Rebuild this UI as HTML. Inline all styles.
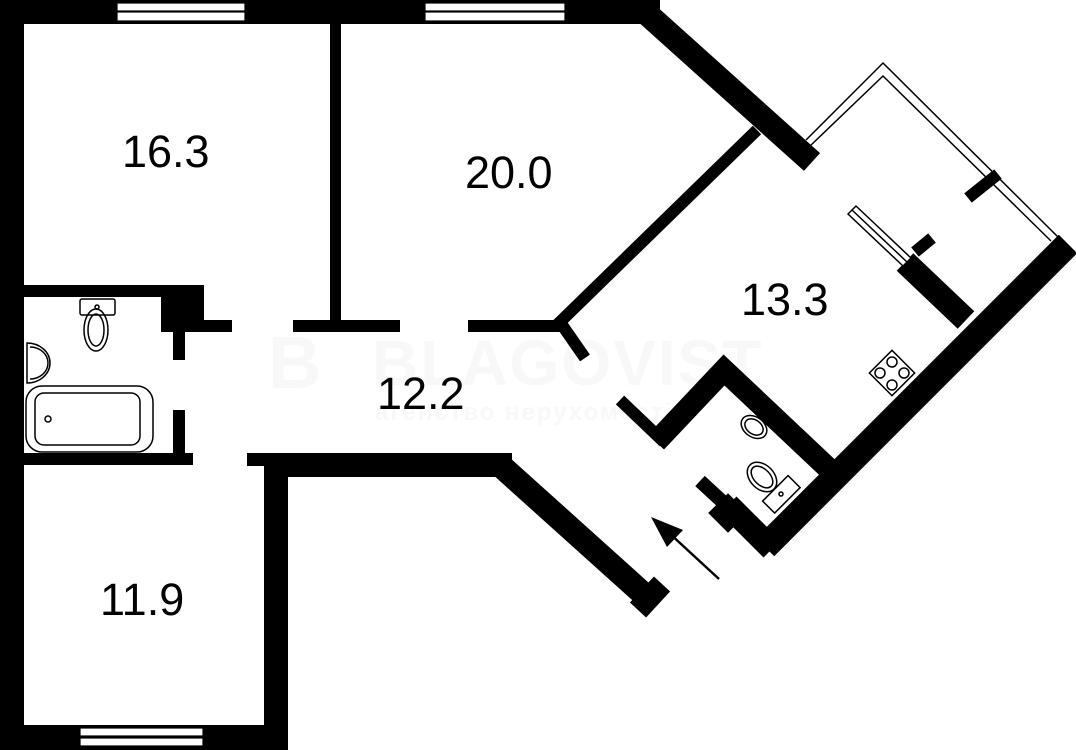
<!DOCTYPE html>
<html><head><meta charset="utf-8"><style>
html,body{margin:0;padding:0;background:#fff;}
svg{display:block;}
text{font-family:"Liberation Sans",sans-serif;}
</style></head><body>
<svg width="1076" height="750" viewBox="0 0 1076 750" xmlns="http://www.w3.org/2000/svg">
<rect width="1076" height="750" fill="#fff"/>
<text x="268" y="388" font-size="74" font-weight="bold" fill="#f8f8f8">B</text>
<text x="372" y="385" font-size="64" font-weight="bold" fill="#f8f8f8" letter-spacing="2">BLAGOVIST</text>
<text x="375" y="420" font-size="24" font-weight="bold" fill="#f8f8f8" letter-spacing="2">агенство нерухомості</text>
<g fill="#000">
<rect x="0" y="0" width="24" height="750"/>
<rect x="0" y="0" width="655" height="24"/>
<rect x="0" y="725" width="288" height="25"/>
<rect x="264" y="453" width="24" height="297"/>
<rect x="247" y="453" width="265" height="13"/>
<rect x="288" y="453" width="220" height="24"/>
<rect x="330" y="24" width="11" height="308"/>
<rect x="293" y="320" width="107" height="12"/>
<rect x="468" y="320" width="92" height="12"/>
<rect x="202" y="320" width="30" height="12"/>
<rect x="24" y="285" width="180" height="12"/>
<rect x="161" y="285" width="43" height="47"/>
<rect x="173" y="332" width="12" height="28"/>
<rect x="173" y="410" width="12" height="45"/>
<rect x="24" y="453" width="169" height="12"/>
</g>
<line x1="500" y1="465" x2="650" y2="600" stroke="#000" stroke-width="24"/>
<line x1="638" y1="610" x2="662" y2="584" stroke="#000" stroke-width="22"/>
<line x1="645" y1="12" x2="812" y2="162" stroke="#000" stroke-width="24"/>
<rect x="640" y="0" width="20" height="24" fill="#000"/>
<polyline points="757,130 560,322 585,358" fill="none" stroke="#000" stroke-width="12"/>
<line x1="1068" y1="244" x2="765" y2="547" stroke="#000" stroke-width="26"/>
<line x1="905" y1="262" x2="966" y2="320" stroke="#000" stroke-width="24"/>
<line x1="915" y1="252" x2="932" y2="238" stroke="#000" stroke-width="12"/>
<polygon points="848,214 856,206 911,258 903,266" fill="#fff" stroke="#000" stroke-width="1.5"/>
<line x1="852" y1="210" x2="907" y2="262" stroke="#000" stroke-width="1.5"/>
<polyline points="806,140 883,63 1058,237" fill="none" stroke="#000" stroke-width="1.5"/>
<polyline points="810,146 883,76 1051,241" fill="none" stroke="#000" stroke-width="1.5"/>
<line x1="968" y1="198" x2="998" y2="174" stroke="#000" stroke-width="12"/>
<line x1="620" y1="400" x2="664" y2="442" stroke="#000" stroke-width="12"/>
<polyline points="656,442 724,370 830,470" fill="none" stroke="#000" stroke-width="22"/>
<line x1="700" y1="481" x2="726" y2="505" stroke="#000" stroke-width="14"/>
<rect x="-14" y="-14" width="28" height="28" transform="translate(728,513) rotate(45)" fill="#000"/>
<line x1="728" y1="505" x2="772" y2="549" stroke="#000" stroke-width="24"/>
<line x1="719" y1="579" x2="668" y2="532" stroke="#000" stroke-width="2.5"/>
<polygon points="651,517 683,530 667,547" fill="#000"/>
<g fill="none" stroke="#000" stroke-width="1.5">
<rect x="80" y="299" width="35" height="16" rx="2"/>
<circle cx="97" cy="307" r="2"/>
<ellipse cx="96" cy="330" rx="12" ry="21"/>
<ellipse cx="96" cy="330" rx="8" ry="16"/>
<path d="M27,343 A23,20 0 0 1 27,383 Z"/>
<path d="M30,347 A18,16 0 0 1 30,379"/>
<rect x="26" y="386" width="127" height="66" rx="16"/>
<rect x="35" y="393" width="105" height="52" rx="9"/>
<circle cx="48" cy="419" r="3"/>
<g transform="translate(754,427) rotate(35)">
<ellipse cx="0" cy="0" rx="14" ry="10"/>
<ellipse cx="0" cy="0" rx="10" ry="7"/>
</g>
<ellipse cx="762" cy="477" rx="12" ry="17" transform="rotate(-45 762 477)"/>
<ellipse cx="762" cy="477" rx="8" ry="13" transform="rotate(-45 762 477)"/>
<rect x="-18" y="-8" width="36" height="17" transform="translate(781,494) rotate(-45)"/>
<circle cx="781" cy="494" r="2"/>
<rect x="-16" y="-16" width="32" height="32" transform="translate(892,373) rotate(-45)"/>
<circle cx="892" cy="362" r="5"/><circle cx="892" cy="385" r="5"/>
<circle cx="880" cy="373" r="5"/><circle cx="904" cy="373" r="5"/>
</g>
<g fill="#fff" stroke="#000" stroke-width="1.2">
<rect x="117" y="3" width="128" height="8"/><rect x="117" y="12" width="128" height="9"/>
<rect x="425" y="3" width="140" height="8"/><rect x="425" y="12" width="140" height="9"/>
<rect x="80" y="728" width="123" height="8"/><rect x="80" y="738" width="123" height="8"/>
</g>
<g font-size="45" fill="#000">
<text x="122" y="167">16.3</text>
<text x="465" y="188">20.0</text>
<text x="741" y="315">13.3</text>
<text x="377" y="409">12.2</text>
<text x="100" y="615">11.9</text>
</g>
</svg>
</body></html>
